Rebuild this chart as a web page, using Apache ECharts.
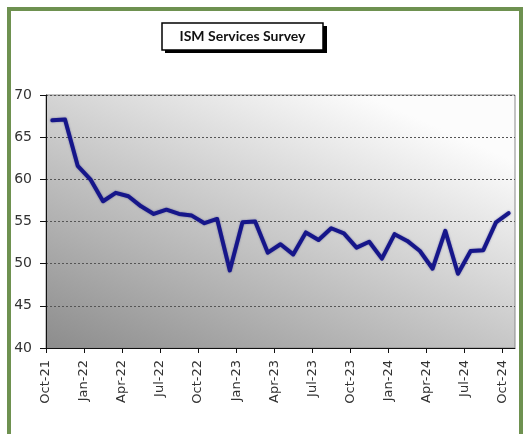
<!DOCTYPE html>
<html>
<head>
<meta charset="utf-8">
<script src="https://cdn.jsdelivr.net/npm/echarts@6/dist/echarts.min.js"></script>
<style>
html,body{margin:0;padding:0;background:#fff;}
#frame{position:absolute;left:7px;top:7px;width:508px;height:440px;border:4px solid #6e9150;box-sizing:content-box;}
#chart{position:absolute;left:0;top:0;width:523px;height:434px;}
</style>
</head>
<body>
<div id="frame"></div>
<div id="chart"></div>
<script>
const titleText = 'ISM Services Survey';
const months = ['Oct-21','Nov-21','Dec-21','Jan-22','Feb-22','Mar-22','Apr-22','May-22','Jun-22','Jul-22','Aug-22','Sep-22',
  'Oct-22','Nov-22','Dec-22','Jan-23','Feb-23','Mar-23','Apr-23','May-23','Jun-23','Jul-23','Aug-23','Sep-23',
  'Oct-23','Nov-23','Dec-23','Jan-24','Feb-24','Mar-24','Apr-24','May-24','Jun-24','Jul-24','Aug-24','Sep-24','Oct-24'];
const values = [67.0,67.1,61.6,60.0,57.4,58.4,58.0,56.8,55.9,56.4,55.9,55.7,
  54.8,55.3,49.2,54.9,55.0,51.3,52.3,51.1,53.7,52.8,54.2,53.6,
  51.9,52.6,50.6,53.5,52.7,51.5,49.4,53.9,48.8,51.5,51.6,54.9,56.0];
const tickLabels = ['Oct-21','Jan-22','Apr-22','Jul-22','Oct-22','Jan-23','Apr-23','Jul-23','Oct-23','Jan-24','Apr-24','Jul-24','Oct-24'];
const yTicks = [40,45,50,55,60,65,70];

// each month occupies one band; points sit mid-band, ticks at band starts
const tickPos = tickLabels.map(l => months.indexOf(l));
const seriesData = values.map((v, i) => [i + 0.5, v]);

const chart = echarts.init(document.getElementById('chart'), null, {renderer:'canvas'});
const font = 'DejaVu Sans';
chart.setOption({
  animation:false,
  backgroundColor:'transparent',
  graphic:[
    {type:'rect', shape:{x:165, y:26, width:162, height:27}, style:{fill:'#000'}, z:10},
    {type:'rect', shape:{x:162, y:23, width:161, height:27}, style:{fill:'#fff', stroke:'#000', lineWidth:1.5}, z:11},
    {type:'text', x:242.5, y:36.5, style:{text:titleText, fill:'#111', font:'bold 14px Lato, "Open Sans", sans-serif', align:'center', verticalAlign:'middle'}, z:12}
  ],
  grid:{left:46, right:8, top:95, bottom:86, show:true,
    borderColor:'#8a8a8a', borderWidth:1,
    backgroundColor:{type:'linear', x:0, y:1, x2:0.31, y2:-0.3, colorStops:[
      {offset:0, color:'#8c8c8c'},{offset:1, color:'#fcfcfc'}]}},
  xAxis:{type:'value', min:0, max:months.length, interval:3,
    axisLine:{show:true, onZero:false, lineStyle:{color:'#111', width:1}},
    axisTick:{show:true, length:5, customValues:tickPos, lineStyle:{color:'#111'}},
    axisLabel:{rotate:90, margin:12, color:'#333', fontFamily:font, fontSize:13,
      customValues:tickPos,
      formatter:v => { const k = tickPos.indexOf(Math.round(v)); return k >= 0 ? tickLabels[k] : ''; }},
    splitLine:{show:false}},
  yAxis:{type:'value', min:yTicks[0], max:yTicks[yTicks.length-1], interval:5,
    axisLine:{show:true, lineStyle:{color:'#111', width:1}},
    axisTick:{show:true, length:6, lineStyle:{color:'#111'}},
    axisLabel:{margin:14, color:'#333', fontFamily:font, fontSize:14},
    splitLine:{show:true, lineStyle:{color:'#555', type:[2,2], width:1}}},
  series:[{type:'line', data:seriesData, symbol:'none', smooth:false,
    lineStyle:{color:'#16168a', width:4, join:'round', cap:'round', shadowColor:'rgba(20,20,120,0.5)', shadowBlur:2}}]
});
</script>
</body>
</html>
